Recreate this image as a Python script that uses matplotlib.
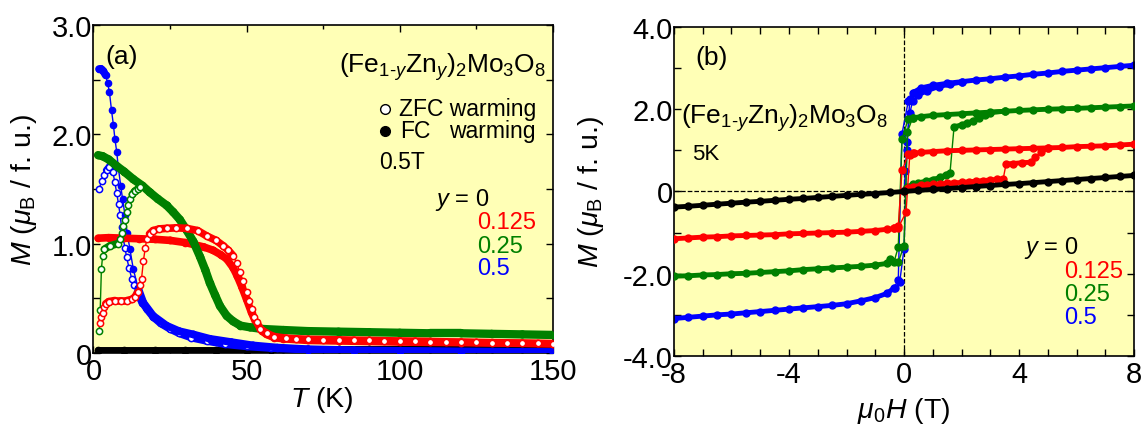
import numpy as np
import matplotlib
matplotlib.use("Agg")
from matplotlib import pyplot as plt
from matplotlib.ticker import MultipleLocator, FuncFormatter

plt.rcParams['font.family'] = ['Liberation Sans', 'DejaVu Sans']
plt.rcParams['mathtext.fontset'] = 'custom'
plt.rcParams['mathtext.rm'] = 'Liberation Sans'
plt.rcParams['mathtext.it'] = 'Liberation Sans:italic'
plt.rcParams['mathtext.bf'] = 'Liberation Sans:bold'
plt.rcParams['axes.unicode_minus'] = False

# ---------------- panel (a): M vs T at 0.5 T ----------------
T_blue_fc = [1.8, 2.5, 3.2, 4.0, 4.6, 5.2, 5.9, 6.5, 7.0, 7.6, 8.1, 8.9, 9.5, 10.3, 11.0, 11.9, 13.0, 14.6,
             16.3, 19.5, 23.9, 28, 32.6, 38, 45, 52, 60, 70, 85, 100, 120, 150]
M_blue_fc = [2.60, 2.60, 2.58, 2.54, 2.47, 2.39, 2.22, 2.09, 1.96, 1.84, 1.70, 1.53, 1.41, 1.26, 1.10, 0.95, 0.77, 0.59,
             0.46, 0.34, 0.25, 0.20, 0.17, 0.13, 0.10, 0.07, 0.05, 0.035, 0.025, 0.02, 0.015, 0.01]

T_blue_zfc = [1.8, 2.7, 3.5, 4.3, 5.2, 6.3, 7.0, 7.6, 8.2, 8.7, 9.2, 9.7, 10.3, 10.8, 11.6, 12.5, 13.3, 14.1, 15.0,
              16.0, 17.5, 19.5, 22, 25, 28, 32, 37, 43, 50, 58, 70, 85, 100, 120, 150]
M_blue_zfc = [1.50, 1.57, 1.63, 1.67, 1.70, 1.66, 1.56, 1.46, 1.36, 1.26, 1.15, 1.05, 0.96, 0.88, 0.78, 0.68, 0.62, 0.56, 0.51,
              0.46, 0.40, 0.33, 0.27, 0.22, 0.18, 0.14, 0.11, 0.08, 0.06, 0.045, 0.03, 0.02, 0.015, 0.01, 0.005]

T_green_fc = [1.5, 3, 5, 7.6, 10, 13, 16, 18.4, 21, 23.9, 26, 28.2, 30.5, 32.6, 34.8, 36.5, 38.0, 39.7, 41.3, 43.5,
              45.6, 48, 51.1, 55, 62, 70, 80, 90, 100, 110, 120, 130, 140, 150]
M_green_fc = [1.81, 1.80, 1.77, 1.71, 1.66, 1.59, 1.53, 1.47, 1.41, 1.35, 1.29, 1.22, 1.12, 1.02, 0.88, 0.76, 0.64, 0.53, 0.43, 0.34,
              0.29, 0.25, 0.235, 0.22, 0.21, 0.20, 0.195, 0.19, 0.185, 0.18, 0.18, 0.175, 0.17, 0.165]

T_green_zfc = [1.9, 2.2, 2.6, 3.0, 3.6, 5.4, 7.9, 8.7, 9.2, 9.7, 10.3, 10.8, 11.4, 11.9, 12.7, 13.5, 14.5, 15.2]
M_green_zfc = [0.20, 0.39, 0.77, 0.89, 0.95, 0.98, 1.00, 1.04, 1.10, 1.16, 1.22, 1.29, 1.35, 1.41, 1.45, 1.48, 1.50, 1.52]

T_red_fc = [1.5, 5, 10, 15, 20, 25, 30, 33, 36, 39, 41.5, 43.5, 45.6, 47, 48.5, 50, 51.6, 53.3, 55, 56.5, 59, 62,
            70, 80, 100, 120, 150]
M_red_fc = [1.05, 1.055, 1.05, 1.045, 1.04, 1.03, 1.01, 0.99, 0.97, 0.94, 0.90, 0.86, 0.78, 0.70, 0.60, 0.49, 0.37, 0.26,
            0.20, 0.17, 0.14, 0.13, 0.115, 0.11, 0.10, 0.095, 0.085]

T_red_zfc = [2.1, 2.5, 3.0, 3.5, 4.0, 5, 7, 9, 11, 12.5, 13.5, 14.6, 15.2, 15.7, 16.3, 16.9, 17.4, 18.3, 19.5, 21.5,
             23.9, 27, 30.4, 34, 37, 40, 42.4, 44, 45.6, 46.8, 47.8, 48.9, 50, 50.8, 51.6, 52.5, 53.3, 54.5, 56.5,
             59, 63, 66, 70, 75, 80, 85, 90, 95, 100, 105, 110, 115, 120, 125, 130, 135, 140, 145, 150]
M_red_zfc = [0.27, 0.33, 0.37, 0.42, 0.45, 0.47, 0.48, 0.48, 0.48, 0.49, 0.51, 0.56, 0.62, 0.68, 0.84, 0.96, 1.04, 1.09,
             1.12, 1.135, 1.14, 1.145, 1.14, 1.12, 1.07, 1.03, 0.98, 0.94, 0.89, 0.82, 0.74, 0.66, 0.56, 0.48, 0.40,
             0.33, 0.28, 0.22, 0.18, 0.15, 0.135, 0.13, 0.125, 0.122, 0.12, 0.117, 0.115, 0.112, 0.11, 0.108, 0.105,
             0.102, 0.10, 0.097, 0.095, 0.092, 0.09, 0.087, 0.085]

T_black = [1.5, 10, 20, 30, 40, 50, 58, 62, 70, 80, 90, 100, 110, 120, 130, 140, 150]
M_black_fc = [0.025, 0.025, 0.025, 0.025, 0.025, 0.025, 0.03, 0.04, 0.04, 0.04, 0.04, 0.04, 0.04, 0.04, 0.04, 0.04, 0.04]
M_black_zfc = [0.02, 0.02, 0.02, 0.02, 0.02, 0.02, 0.025, 0.035, 0.035, 0.035, 0.035, 0.035, 0.035, 0.035, 0.035, 0.035, 0.035]

# ---------------- panel (b): M vs H at 5 K ----------------
H_black = list(np.arange(-8, 8.5, 0.5))
M_black = [-0.38, -0.36, -0.335, -0.31, -0.285, -0.26, -0.24, -0.215, -0.19, -0.17, -0.145, -0.12, -0.095, -0.07,
           -0.05, -0.025, 0.0, 0.025, 0.05, 0.07, 0.095, 0.12, 0.145, 0.17, 0.19, 0.215, 0.24, 0.265, 0.29, 0.315,
           0.34, 0.365, 0.39]

H_down = [8, 7.5, 7, 6.5, 6, 5.5, 5, 4.5, 4, 3.5, 3, 2.5, 2, 1.5, 1, 0.6, 0.3, 0.15, -0.07, -0.2, -0.35, -0.6,
          -1, -1.5, -2, -2.5, -3, -3.5, -4, -4.5, -5, -5.5, -6, -6.5, -7, -7.5, -8]
M_red_down = [1.15, 1.13, 1.11, 1.10, 1.09, 1.07, 1.06, 1.05, 1.04, 1.03, 1.02, 1.01, 1.00, 0.99, 0.97, 0.95, 0.93,
              0.90, 0.51, -0.85, -0.90, -0.92, -0.95, -0.97, -0.99, -1.00, -1.01, -1.02, -1.03, -1.05, -1.06, -1.07,
              -1.08, -1.10, -1.11, -1.13, -1.15]
M_green_down = [2.08, 2.065, 2.05, 2.035, 2.02, 2.01, 2.00, 1.985, 1.97, 1.95, 1.93, 1.91, 1.89, 1.87, 1.85, 1.82,
                1.79, 1.77, 1.28, -1.35, -1.72, -1.75, -1.79, -1.82, -1.84, -1.86, -1.88, -1.90, -1.93, -1.95,
                -1.97, -1.99, -2.00, -2.02, -2.03, -2.05, -2.06]
M_blue_down = [3.07, 3.04, 3.01, 2.98, 2.95, 2.92, 2.88, 2.85, 2.81, 2.78, 2.74, 2.71, 2.67, 2.63, 2.58, 2.52, 2.40,
               2.20, 1.40, -2.15, -2.35, -2.48, -2.58, -2.66, -2.73, -2.77, -2.80, -2.83, -2.86, -2.89, -2.92,
               -2.95, -2.98, -3.00, -3.03, -3.06, -3.09]

# return sweep near zero field
H_red_up = [-0.35, -0.2, 0.07, 0.2, 0.35]
M_red_up = [-0.90, -0.88, -0.51, 0.88, 0.93]
H_green_up = [-0.5, -0.2, 0.0, 0.12, 0.3]
M_green_up = [-1.65, -1.72, -1.32, 1.45, 1.79]
H_blue_up = [-0.3, -0.15, 0.0, 0.1, 0.2, 0.35]
M_blue_up = [-2.35, -2.20, -1.40, 1.00, 2.26, 2.40]

# virgin curves
H_red_v = [0, 0.15, 0.3, 0.6, 0.8, 1.0, 1.25, 1.5, 1.75, 2.0, 2.25, 2.5, 2.75, 3.0, 3.25, 3.45, 3.55, 3.8, 4.1,
           4.4, 4.55, 4.75, 5.0]
M_red_v = [0.0, 0.08, 0.12, 0.15, 0.16, 0.17, 0.185, 0.20, 0.21, 0.22, 0.235, 0.25, 0.265, 0.28, 0.295, 0.31, 0.67,
           0.68, 0.70, 0.71, 0.83, 0.96, 1.06]
H_green_v = [0, 0.1, 0.3, 0.5, 0.75, 1.0, 1.25, 1.45, 1.6, 1.74, 2.0, 2.2, 2.4, 2.6, 2.8, 3.0, 3.5]
M_green_v = [0.0, 0.10, 0.17, 0.21, 0.25, 0.29, 0.34, 0.40, 0.46, 1.57, 1.62, 1.66, 1.72, 1.79, 1.86, 1.92, 1.95]
H_blue_v = [0, 0.05, 0.1, 0.2, 0.3, 0.5, 0.8, 1.2, 1.6, 2.0]
M_blue_v = [0.0, 0.5, 1.2, 1.9, 2.2, 2.35, 2.45, 2.55, 2.61, 2.66]

bg = '#ffffb6'
cols = {'black': 'black', 'red': '#ff0000', 'green': '#008000', 'blue': '#0000ff'}
fs_tick = 21
fs_lab = 20.5
fs_txt = 17

fig = plt.figure(figsize=(11.41, 4.27), dpi=100)
axa = fig.add_axes([0.0819, 0.171, 0.4027, 0.768])
axb = fig.add_axes([0.5907, 0.164, 0.4032, 0.7705])

for ax in (axa, axb):
    ax.set_facecolor(bg)
    ax.tick_params(which='both', direction='in', top=True, right=True, labelsize=fs_tick, width=1)
    ax.tick_params(which='major', length=5)
    ax.tick_params(which='minor', length=3)
    ax.tick_params(axis='y', pad=1)
    ax.tick_params(axis='x', pad=3)
    for s in ax.spines.values():
        s.set_linewidth(1.2)


def curve(ax, x, y, c, z, lim, thick, filled, ms):
    # thin line through all points, a thick band where the curve is flat (dense data)
    ax.plot(x, y, '-', color=c, lw=1.0, zorder=z)
    x = np.asarray(x, float)
    y = np.asarray(y, float)
    for i in range(len(x) - 1):
        if abs((y[i + 1] - y[i]) / (x[i + 1] - x[i])) < lim:
            ax.plot(x[i:i + 2], y[i:i + 2], '-', color=c, lw=thick, zorder=z, solid_capstyle='round')
    if filled:
        ax.plot(x, y, 'o', color=c, ms=ms, zorder=z)
    else:
        ax.plot(x, y, 'o', ms=ms, mfc='white', mec=c, mew=1.1, zorder=z)


# panel (a)
curve(axa, T_black, M_black_zfc, 'black', 2, 0.1, 5, True, 4.5)
curve(axa, T_black, M_black_fc, 'black', 2, 0.1, 5, True, 4.5)
curve(axa, T_blue_zfc, M_blue_zfc, cols['blue'], 3, 0.05, 5.5, False, 4.5)
curve(axa, T_blue_fc, M_blue_fc, cols['blue'], 3, 0.1, 5.5, True, 4.5)
curve(axa, T_red_fc, M_red_fc, cols['red'], 4, 0.1, 5.5, True, 4.5)
curve(axa, T_green_fc, M_green_fc, cols['green'], 5, 0.1, 6, True, 4.5)
curve(axa, T_green_zfc, M_green_zfc, cols['green'], 5, 0.05, 5.5, False, 4.5)
curve(axa, T_red_zfc, M_red_zfc, cols['red'], 6, 0.05, 5.5, False, 4.5)

axa.set_xlim(0, 150)
axa.set_ylim(0, 3)
axa.xaxis.set_major_locator(MultipleLocator(50))
axa.xaxis.set_minor_locator(MultipleLocator(25))
axa.yaxis.set_major_locator(MultipleLocator(0.5))
axa.xaxis.set_major_formatter(FuncFormatter(lambda v, p: '%d' % v))
axa.yaxis.set_major_formatter(FuncFormatter(lambda v, p: '0' if v == 0 else ('%.1f' % v if v == int(v) else '')))
axa.set_xlabel(r'$T$ (K)', fontsize=fs_lab)
axa.set_ylabel(r'$M$ ($\mu_{\mathrm{B}}$ / f. u.)', fontsize=fs_lab)
axa.xaxis.set_label_coords(0.497, -0.095)
axa.yaxis.set_label_coords(-0.119, 0.5)

formula = r'(Fe$_{1\text{-}y}$Zn$_y$)$_2$Mo$_3$O$_8$'
axa.text(0.025, 0.905, '(a)', transform=axa.transAxes, fontsize=19, va='center')
axa.text(0.985, 0.875, formula, transform=axa.transAxes, fontsize=19, va='center', ha='right')
axa.plot([0.634], [0.744], 'o', ms=7, mfc='white', mec='black', mew=1, transform=axa.transAxes)
axa.plot([0.634], [0.677], 'o', ms=7, color='black', transform=axa.transAxes)
axa.text(0.963, 0.744, 'ZFC warming', transform=axa.transAxes, fontsize=16.5, va='center', ha='right')
axa.text(0.667, 0.677, 'FC', transform=axa.transAxes, fontsize=16.5, va='center')
axa.text(0.963, 0.677, 'warming', transform=axa.transAxes, fontsize=16.5, va='center', ha='right')
axa.text(0.622, 0.585, '0.5T', transform=axa.transAxes, fontsize=16.5, va='center')
axa.text(0.743, 0.47, r'$y$ = 0', transform=axa.transAxes, fontsize=fs_txt, va='center')
axa.text(0.834, 0.40, '0.125', transform=axa.transAxes, fontsize=fs_txt, va='center', color=cols['red'])
axa.text(0.834, 0.326, '0.25', transform=axa.transAxes, fontsize=fs_txt, va='center', color=cols['green'])
axa.text(0.834, 0.259, '0.5', transform=axa.transAxes, fontsize=fs_txt, va='center', color=cols['blue'])

# panel (b)
axb.axhline(0, color='black', ls='--', lw=0.9, zorder=1)
axb.axvline(0, color='black', ls='--', lw=0.9, zorder=1)

curve(axb, H_black, M_black, 'black', 5, 0.6, 3.5, True, 5)
for Hd, Md, Hu, Mu, Hv, Mv, c, z in [
        (H_down, M_red_down, H_red_up, M_red_up, H_red_v, M_red_v, 'red', 4),
        (H_down, M_green_down, H_green_up, M_green_up, H_green_v, M_green_v, 'green', 3),
        (H_down, M_blue_down, H_blue_up, M_blue_up, H_blue_v, M_blue_v, 'blue', 2)]:
    curve(axb, Hd, Md, cols[c], z, 0.6, 3.5, True, 5)
    curve(axb, Hu, Mu, cols[c], z, 0.6, 3.5, True, 5)
    curve(axb, Hv, Mv, cols[c], z, 0.6, 3.5, True, 5)

axb.set_xlim(-8, 8)
axb.set_ylim(-4, 4)
axb.xaxis.set_major_locator(MultipleLocator(1))
axb.yaxis.set_major_locator(MultipleLocator(1))
axb.xaxis.set_major_formatter(FuncFormatter(lambda v, p: '%d' % v if abs(v) % 4 == 0 else ''))
axb.yaxis.set_major_formatter(FuncFormatter(
    lambda v, p: ('0' if v == 0 else '%.1f' % v) if abs(v) % 2 == 0 else ''))
axb.set_xlabel(r'$\mu_0H$ (T)', fontsize=fs_lab)
axb.set_ylabel(r'$M$ ($\mu_{\mathrm{B}}$ / f. u.)', fontsize=fs_lab)
axb.xaxis.set_label_coords(0.5, -0.12)
axb.yaxis.set_label_coords(-0.148, 0.5)

axb.text(0.047, 0.909, '(b)', transform=axb.transAxes, fontsize=19, va='center')
axb.text(0.015, 0.726, formula, transform=axb.transAxes, fontsize=19, va='center')
axb.text(0.039, 0.614, '5K', transform=axb.transAxes, fontsize=16, va='center')
axb.text(0.76, 0.331, r'$y$ = 0', transform=axb.transAxes, fontsize=fs_txt, va='center')
axb.text(0.848, 0.258, '0.125', transform=axb.transAxes, fontsize=fs_txt, va='center', color=cols['red'])
axb.text(0.848, 0.188, '0.25', transform=axb.transAxes, fontsize=fs_txt, va='center', color=cols['green'])
axb.text(0.848, 0.119, '0.5', transform=axb.transAxes, fontsize=fs_txt, va='center', color=cols['blue'])

fig.savefig('out.png', dpi=100)
